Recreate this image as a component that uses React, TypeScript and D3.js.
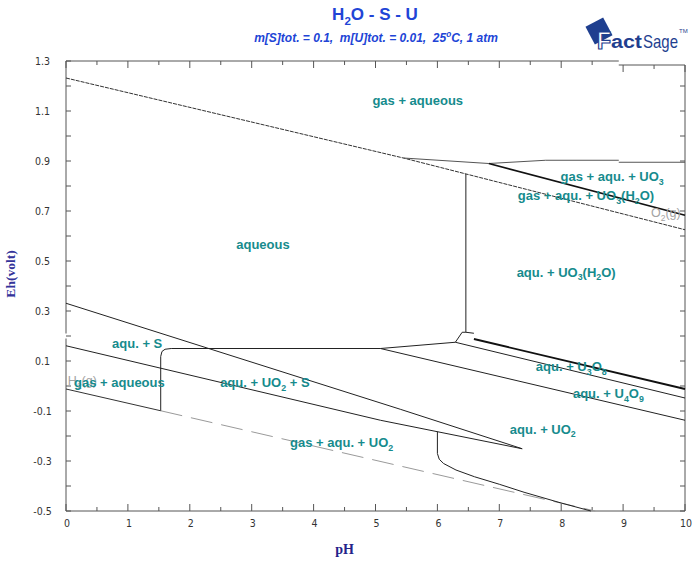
import React from 'react';
import * as d3 from 'd3';

type Pt = [number, number];

// pH axis and Eh axis labels
const phTickLabels = [0, 1, 2, 3, 4, 5, 6, 7, 8, 9, 10];
const ehTickLabels = [1.3, 1.1, 0.9, 0.7, 0.5, 0.3, 0.1, -0.1, -0.3, -0.5];

// boundary lines (pH, Eh)
const o2Line: Pt[] = [[0, 1.232], [5.45, 0.912], [10, 0.625]];
const h2LineLeft: Pt[] = [[0, -0.012], [1.53, -0.099]];
const h2LineDashed: Pt[] = [[1.53, -0.099], [8.55, -0.5]];
const gasBoundary: Pt[] = [[5.45, 0.912], [6.83, 0.89], [7.75, 0.903], [8.93, 0.903]];
const gasBoundaryRight: Pt[] = [[8.93, 0.895], [10, 0.895]];
const uo3HydrateBoundary: Pt[] = [[6.83, 0.89], [10, 0.683]];
const uo3Vertical: Pt[] = [[6.46, 0.848], [6.46, 0.215]];
const vertexLinks: Pt[] = [[5.08, 0.15], [6.29, 0.175], [6.4, 0.215], [6.46, 0.215], [6.59, 0.211]];
const u3o8Upper: Pt[] = [[6.59, 0.188], [10, -0.012]];
const u4o9Upper: Pt[] = [[6.29, 0.175], [10, -0.048]];
const uo2Upper: Pt[] = [[5.08, 0.15], [10, -0.137]];
const sulfurUpper: Pt[] = [[0, 0.331], [2.28, 0.152], [5.4, -0.093], [7.37, -0.251]];
const sulfurLower: Pt[] = [[0, 0.161], [5.08, -0.137], [7.37, -0.251]];
const sulfurStep: Pt[] = [[1.53, -0.099], [1.53, 0.118], [1.55, 0.138], [1.6, 0.147], [1.7, 0.15], [5.08, 0.15]];
const uo2Step: Pt[] = [[6.0, -0.183], [6.0, -0.27], [6.03, -0.293], [6.1, -0.31], [6.3, -0.336], [6.6, -0.363], [7.0, -0.393], [7.4, -0.425], [8.0, -0.468], [8.48, -0.5]];

// region names, anchored at their left baseline (pH, Eh)
const regionLabels = [
  { text: 'gas + aqueous', ph: 4.95, eh: 1.124 },
  { text: 'aqueous', ph: 2.75, eh: 0.55 },
  { text: 'gas + aqu. + UO_3', ph: 7.99, eh: 0.819 },
  { text: 'gas + aqu. + UO_3(H_2O)', ph: 7.3, eh: 0.745 },
  { text: 'aqu. + UO_3(H_2O)', ph: 7.28, eh: 0.438 },
  { text: 'aqu. + S', ph: 0.744, eh: 0.153 },
  { text: 'gas + aqueous', ph: 0.13, eh: -0.003 },
  { text: 'aqu. + UO_2 + S', ph: 2.49, eh: -0.003 },
  { text: 'aqu. + U_3O_8', ph: 7.59, eh: 0.061 },
  { text: 'aqu. + U_4O_9', ph: 8.19, eh: -0.047 },
  { text: 'aqu. + UO_2', ph: 7.17, eh: -0.19 },
  { text: 'gas + aqu. + UO_2', ph: 3.62, eh: -0.244 },
];
const gasLabels = [
  { text: 'O_2(g)', ph: 9.45, eh: 0.675 },
  { text: 'H_2(g)', ph: 0.03, eh: 0.005 },
];

const W = 694;
const H = 563;
const x = d3.scaleLinear().domain([0, 10]).range([66, 685]);
const y = d3.scaleLinear().domain([-0.5, 1.3]).range([511, 61]);
const line = d3.line<Pt>().x((d) => x(d[0])).y((d) => y(d[1]));

const SANS = "'Liberation Sans', Arial, sans-serif";
const NARROW = "'Liberation Sans Narrow', 'DejaVu Sans Condensed', 'Liberation Sans', sans-serif";
const SERIF = "'Liberation Serif', 'Times New Roman', serif";

// "_x" -> subscript, "^x" -> superscript
function parseRich(s: string) {
  const out: { t: string; shift: number }[] = [];
  let buf = '';
  let i = 0;
  while (i < s.length) {
    const c = s[i];
    if ((c === '_' || c === '^') && i + 1 < s.length) {
      if (buf) out.push({ t: buf, shift: 0 });
      buf = '';
      out.push({ t: s[i + 1], shift: c === '_' ? 1 : -1 });
      i += 2;
    } else {
      buf += c;
      i++;
    }
  }
  if (buf) out.push({ t: buf, shift: 0 });
  return out;
}

const Rich: React.FC<{
  x: number; y: number; text: string; size: number; fill: string;
  weight?: string; family?: string; italic?: boolean; anchor?: string;
}> = ({ x: px, y: py, text, size, fill, weight = 'normal', family = SANS, italic, anchor = 'start' }) => {
  let cur = 0;
  return (
    <text x={px} y={py} fill={fill} fontSize={size} fontWeight={weight} fontFamily={family}
      fontStyle={italic ? 'italic' : 'normal'} textAnchor={anchor} style={{ whiteSpace: 'pre' }}>
      {parseRich(text).map((p, k) => {
        const target = p.shift === 1 ? size * 0.3 : p.shift === -1 ? -size * 0.45 : 0;
        const dy = target - cur;
        cur = target;
        return (
          <tspan key={k} dy={dy} fontSize={p.shift ? size * 0.68 : size}>{p.t}</tspan>
        );
      })}
    </text>
  );
};

const App: React.FC = () => {
  const majorX = phTickLabels;
  const minorX = phTickLabels.slice(0, -1).map((v) => v + 0.5);
  const yTicks = d3.range(-5, 14).map((v) => v / 10);
  const topSplit = 8.93;
  const topRight = 1.284;

  return (
    <svg width={W} height={H} style={{ position: 'absolute', left: 0, top: 0, background: '#fff' }}>
      {/* title */}
      <Rich x={375} y={20} text="H_2O - S - U" size={17} fill="#2144d6" weight="bold" anchor="middle" />
      <Rich x={376} y={42} text="m[S]tot. = 0.1,  m[U]tot. = 0.01,  25^oC, 1 atm" size={12} fill="#2144d6"
        weight="bold" italic anchor="middle" />

      {/* FactSage logo */}
      <g>
        <rect x={589} y={21} width={20} height={20} fill="#1f3f8f" transform="rotate(-28 599 31)" />
        <text x={597} y={49} fontSize={23} fontWeight="bold" fontFamily={SANS} fill="#fff" stroke="#1f3f8f" strokeWidth={1.2}>F</text>
        <text x={611} y={48} fontSize={18} fontWeight="bold" fontFamily={SANS} fill="#1f3f8f"
          textLength={31} lengthAdjust="spacingAndGlyphs">act</text>
        <text x={643} y={48} fontSize={19} fontFamily={SANS} fill="#1f3f8f"
          textLength={35} lengthAdjust="spacingAndGlyphs">Sage</text>
        <text x={679} y={33} fontSize={6} fontFamily={SANS} fill="#1f3f8f">TM</text>
      </g>

      {/* frame */}
      <g stroke="#555" strokeWidth={1} fill="none">
        <line x1={x(0)} x2={x(0)} y1={y(1.3)} y2={y(0.21)} />
        <line x1={x(0)} x2={x(0)} y1={y(0.19)} y2={y(-0.5)} />
        <line x1={x(0)} x2={x(10)} y1={y(-0.5)} y2={y(-0.5)} />
        <line x1={x(0)} x2={x(topSplit)} y1={y(1.3)} y2={y(1.3)} />
        <line x1={x(topSplit)} x2={x(10)} y1={y(topRight)} y2={y(topRight)} />
        <line x1={x(10)} x2={x(10)} y1={y(topRight)} y2={y(-0.5)} />
        {majorX.map((v) => (
          <line key={'bx' + v} x1={x(v)} x2={x(v)} y1={y(-0.5)} y2={y(-0.5) - 7} />
        ))}
        {minorX.map((v) => (
          <line key={'bm' + v} x1={x(v)} x2={x(v)} y1={y(-0.5)} y2={y(-0.5) - 4} />
        ))}
        {majorX.concat(minorX).map((v) => {
          const top = v > topSplit ? y(topRight) : y(1.3);
          const len = Number.isInteger(v) ? 7 : 4;
          return <line key={'tx' + v} x1={x(v)} x2={x(v)} y1={top} y2={top + len} />;
        })}
        {yTicks.map((v) => (
          <line key={'ly' + v} x1={x(0)} x2={x(0) + 5} y1={y(v)} y2={y(v)} />
        ))}
        {yTicks.filter((v) => v < 1.28).map((v) => (
          <line key={'ry' + v} x1={x(10)} x2={x(10) - 5} y1={y(v)} y2={y(v)} />
        ))}
      </g>

      {/* tick labels */}
      <g fontFamily={NARROW} fontSize={10.5} fill="#333" textAnchor="middle">
        {phTickLabels.map((v) => (
          <text key={'xl' + v} x={x(v) + 1} y={527}>{v}</text>
        ))}
        {ehTickLabels.map((v) => (
          <text key={'yl' + v} x={42.5} y={y(v) + 4}>{v.toFixed(1)}</text>
        ))}
      </g>
      <text x={x(4.5)} y={554} textAnchor="middle" fontFamily={SERIF} fontWeight="bold" fontSize={14} fill="#23238a">pH</text>
      <text transform={`translate(15, ${274}) rotate(-90)`} textAnchor="middle" fontFamily={SERIF}
        fontWeight="bold" fontSize={13.5} fill="#33339a">Eh(volt)</text>

      {/* boundaries */}
      <g fill="none" strokeLinejoin="round">
        <path d={line(o2Line) || ''} stroke="#333" strokeWidth={1} strokeDasharray="4 1" />
        <path d={line(h2LineLeft) || ''} stroke="#333" strokeWidth={1} />
        <path d={line(h2LineDashed) || ''} stroke="#9a9a9a" strokeWidth={1} strokeDasharray="22 9" />
        <path d={line(gasBoundary) || ''} stroke="#555" strokeWidth={1} />
        <path d={line(gasBoundaryRight) || ''} stroke="#555" strokeWidth={1} />
        <path d={line(uo3HydrateBoundary) || ''} stroke="#111" strokeWidth={1.7} />
        <path d={line(uo3Vertical) || ''} stroke="#222" strokeWidth={1} />
        <path d={line(vertexLinks) || ''} stroke="#222" strokeWidth={1} />
        <path d={line(u3o8Upper) || ''} stroke="#111" strokeWidth={1.8} />
        <path d={line(u4o9Upper) || ''} stroke="#222" strokeWidth={1} />
        <path d={line(uo2Upper) || ''} stroke="#222" strokeWidth={1} />
        <path d={line(sulfurUpper) || ''} stroke="#222" strokeWidth={1} />
        <path d={line(sulfurLower) || ''} stroke="#222" strokeWidth={1} />
        <path d={line(sulfurStep) || ''} stroke="#222" strokeWidth={1} />
        <path d={line(uo2Step) || ''} stroke="#222" strokeWidth={1} />
      </g>

      {/* labels */}
      {gasLabels.map((l, i) => (
        <Rich key={'g' + i} x={x(l.ph)} y={y(l.eh)} text={l.text} size={12.5} fill="#a3a3a3" />
      ))}
      {regionLabels.map((l, i) => (
        <Rich key={'r' + i} x={x(l.ph)} y={y(l.eh)} text={l.text} size={13} fill="#168b8d" weight="bold" />
      ))}
    </svg>
  );
};

export default App;
